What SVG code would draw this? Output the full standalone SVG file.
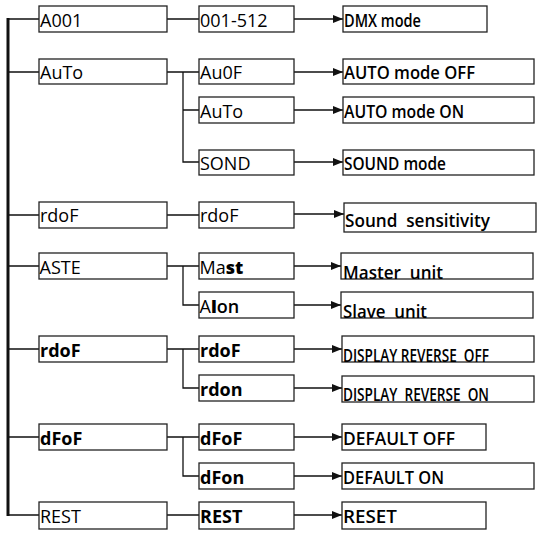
<svg xmlns="http://www.w3.org/2000/svg" width="551" height="542" viewBox="0 0 551 542">
<style>
.b{fill:#fff;stroke:#222;stroke-width:1.3}
.c{stroke:#111;stroke-width:1.3;fill:none}
.a{stroke:#111;stroke-width:1.3;fill:none;marker-end:url(#ah)}
.t{font-family:"Open Sans","Noto Sans","Liberation Sans",sans-serif;font-size:18px;fill:#000}
.bd{font-weight:700}
.r{font-family:"Open Sans","Noto Sans","Liberation Sans",sans-serif;font-size:18px;font-weight:600;fill:#000;white-space:pre}
</style>
<defs>
<marker id="ah" markerWidth="10" markerHeight="8" refX="10" refY="4" orient="auto" markerUnits="userSpaceOnUse">
<path d="M0,0 L10,4 L0,8 Z" fill="#111"/>
</marker>
</defs>
<rect width="551" height="542" fill="#fff"/>
<g id="connectors">
<line x1="8" y1="18" x2="8" y2="516" stroke="#111" stroke-width="3"/>
<path class="c" d="M8,19H39 M8,72H39 M8,215H39 M8,266H39 M8,349H39 M8,437H39 M8,515H39"/>
<path class="c" d="M167,19H199 M167,72H199 M183,72V162H199 M183,110H199 M167,215H199 M167,266H199 M183,266V305H199 M167,349H199 M183,349V388H199 M167,437H199 M183,437V476H199 M167,515H199"/>
<path class="a" d="M294,19H343"/>
<path class="a" d="M294,72H343"/>
<path class="a" d="M294,110H343"/>
<path class="a" d="M294,162H343"/>
<path class="a" d="M294,214H344"/>
<path class="a" d="M294,266H341"/>
<path class="a" d="M294,305H341"/>
<path class="a" d="M294,349H342"/>
<path class="a" d="M294,388H342"/>
<path class="a" d="M294,437H342"/>
<path class="a" d="M294,476H342"/>
<path class="a" d="M294,515H342"/>
</g>
<g id="n-a001"><rect class="b" x="39" y="6" width="128" height="26"/><text class="t" x="40" y="27">A001</text></g>
<g id="n-001512"><rect class="b" x="199" y="6" width="95" height="26"/><text class="t" x="200" y="27">001-512</text></g>
<g id="n-dmx"><rect class="b" x="343" y="6" width="144" height="26"/><text class="r" x="344" y="27" textLength="77" lengthAdjust="spacingAndGlyphs">DMX mode</text></g>

<g id="n-auto"><rect class="b" x="39" y="59" width="128" height="25"/><text class="t" x="40" y="79">AuTo</text></g>
<g id="n-au0f"><rect class="b" x="199" y="59" width="95" height="25"/><text class="t" x="200" y="79">Au0F</text></g>
<g id="n-autooff"><rect class="b" x="343" y="59" width="191" height="25"/><text class="r" x="344" y="79" textLength="131" lengthAdjust="spacingAndGlyphs">AUTO mode OFF</text></g>
<g id="n-auto2"><rect class="b" x="199" y="97" width="95" height="26"/><text class="t" x="200" y="118">AuTo</text></g>
<g id="n-autoon"><rect class="b" x="343" y="97" width="191" height="26"/><text class="r" x="344" y="118" textLength="120" lengthAdjust="spacingAndGlyphs">AUTO mode ON</text></g>
<g id="n-sond"><rect class="b" x="199" y="150" width="95" height="25"/><text class="t" x="200" y="170">SOND</text></g>
<g id="n-sound"><rect class="b" x="343" y="150" width="191" height="25"/><text class="r" x="344" y="170" textLength="102" lengthAdjust="spacingAndGlyphs">SOUND mode</text></g>

<g id="n-rdof1"><rect class="b" x="39" y="202" width="128" height="26"/><text class="t" x="40" y="222">rdoF</text></g>
<g id="n-rdof1b"><rect class="b" x="199" y="202" width="95" height="26"/><text class="t" x="200" y="222">rdoF</text></g>
<g id="n-sens"><rect class="b" x="344" y="203" width="192" height="29"/><text class="r" xml:space="preserve" x="345" y="227" font-size="19" textLength="145" lengthAdjust="spacingAndGlyphs">Sound  sensitivity</text></g>

<g id="n-aste"><rect class="b" x="39" y="253" width="128" height="26"/><text class="t" x="39.5" y="274">ASTE</text></g>
<g id="n-mast"><rect class="b" x="199" y="253" width="95" height="26"/><text class="t" x="199.5" y="274" font-size="17">Ma<tspan font-weight="800">st</tspan></text></g>
<g id="n-master"><rect class="b" x="341" y="253" width="192" height="26"/><text class="r" xml:space="preserve" x="343" y="279" font-size="19" textLength="100" lengthAdjust="spacingAndGlyphs">Master  unit</text></g>
<g id="n-alon"><rect class="b" x="199" y="292" width="95" height="26"/><text class="t" x="199.5" y="313" font-size="17">A<tspan font-weight="800">l</tspan><tspan font-weight="600">on</tspan></text></g>
<g id="n-slave"><rect class="b" x="341" y="292" width="192" height="26"/><text class="r" xml:space="preserve" x="343" y="318" font-size="19" textLength="84" lengthAdjust="spacingAndGlyphs">Slave  unit</text></g>

<g id="n-rdof2"><rect class="b" x="39" y="336" width="128" height="26"/><text class="t bd" x="40" y="357">rdoF</text></g>
<g id="n-rdof2b"><rect class="b" x="199" y="336" width="95" height="26"/><text class="t bd" x="200" y="357">rdoF</text></g>
<g id="n-dispoff"><rect class="b" x="342" y="336" width="192" height="26"/><text class="r" xml:space="preserve" x="343" y="362" font-size="17" textLength="146" lengthAdjust="spacingAndGlyphs">DISPLAY REVERSE  OFF</text></g>
<g id="n-rdon"><rect class="b" x="199" y="375" width="95" height="26"/><text class="t bd" x="200" y="396">rdon</text></g>
<g id="n-dispon"><rect class="b" x="342" y="376" width="192" height="26"/><text class="r" xml:space="preserve" x="343" y="401" font-size="17" textLength="146" lengthAdjust="spacingAndGlyphs">DISPLAY  REVERSE  ON</text></g>

<g id="n-dfof"><rect class="b" x="39" y="424" width="128" height="26"/><text class="t bd" x="40" y="445">dFoF</text></g>
<g id="n-dfofb"><rect class="b" x="199" y="424" width="95" height="26"/><text class="t bd" x="200" y="445">dFoF</text></g>
<g id="n-defoff"><rect class="b" x="342" y="424" width="144" height="26"/><text class="r" x="343" y="445" textLength="112" lengthAdjust="spacingAndGlyphs">DEFAULT OFF</text></g>
<g id="n-dfon"><rect class="b" x="199" y="463" width="95" height="26"/><text class="t bd" x="200" y="484">dFon</text></g>
<g id="n-defon"><rect class="b" x="342" y="463" width="192" height="26"/><text class="r" x="343" y="484" textLength="101" lengthAdjust="spacingAndGlyphs">DEFAULT ON</text></g>

<g id="n-rest"><rect class="b" x="39" y="502" width="128" height="27"/><text class="t" x="40" y="523">REST</text></g>
<g id="n-restb"><rect class="b" x="199" y="502" width="95" height="27"/><text class="t bd" x="200" y="523">REST</text></g>
<g id="n-reset"><rect class="b" x="342" y="502" width="144" height="27"/><text class="r" x="343" y="523" textLength="54" lengthAdjust="spacingAndGlyphs">RESET</text></g>
</svg>
